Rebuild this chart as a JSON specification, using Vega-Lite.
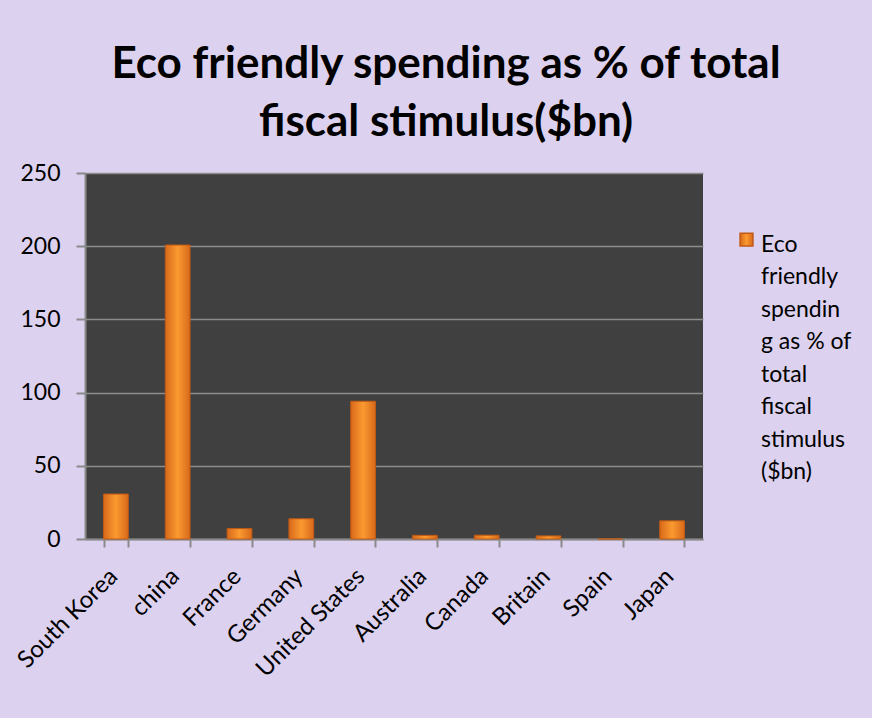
{
  "$schema": "https://vega.github.io/schema/vega-lite/v6.json",
  "autosize": "none",
  "width": 618,
  "height": 366,
  "padding": {"left": 85, "top": 173, "right": 169, "bottom": 179},
  "background": "#dcd1ee",
  "title": {
    "text": ["Eco friendly spending as % of total", "fiscal stimulus($bn)"],
    "font": "Lato",
    "fontSize": 44,
    "fontWeight": "bold",
    "color": "#000000",
    "lineHeight": 58,
    "anchor": "middle",
    "dx": 52,
    "offset": 17
  },
  "data": {
    "values": [
      {"country": "South Korea", "value": 30.7},
      {"country": "china", "value": 200.8},
      {"country": "France", "value": 7.1},
      {"country": "Germany", "value": 13.8},
      {"country": "United States", "value": 94.1},
      {"country": "Australia", "value": 2.5},
      {"country": "Canada", "value": 2.6},
      {"country": "Britain", "value": 2.1},
      {"country": "Spain", "value": 0},
      {"country": "Japan", "value": 12.4}
    ]
  },
  "mark": {
    "type": "bar",
    "strokeWidth": 1,
    "fill": {
      "gradient": "linear",
      "x1": 0, "x2": 1, "y1": 0, "y2": 0,
      "stops": [
        {"offset": 0, "color": "#d8691a"},
        {"offset": 0.5, "color": "#fb9a30"},
        {"offset": 1, "color": "#d8691a"}
      ]
    }
  },
  "encoding": {
    "x": {
      "field": "country",
      "type": "nominal",
      "sort": null,
      "scale": {"paddingInner": 0.6, "paddingOuter": 0.3},
      "axis": {
        "title": null,
        "labelAngle": -45,
        "labelFont": "Lato",
        "labelFontSize": 24,
        "labelColor": "#000000",
        "labelPadding": 17,
        "labelOffset": -11,
        "tickBand": "extent",
        "tickSize": 8,
        "tickColor": "#8a8a8a",
        "tickWidth": 2,
        "domainColor": "#8a8a8a",
        "domainWidth": 2,
        "grid": false
      }
    },
    "y": {
      "field": "value",
      "type": "quantitative",
      "scale": {"domain": [0, 250], "nice": false},
      "axis": {
        "title": null,
        "values": [0, 50, 100, 150, 200, 250],
        "labelFont": "Lato",
        "labelFontSize": 23,
        "labelColor": "#000000",
        "labelPadding": 16,
        "tickSize": 9,
        "tickColor": "#8a8a8a",
        "tickWidth": 2,
        "domainColor": "#8a8a8a",
        "domainWidth": 2,
        "grid": true,
        "gridColor": "#8c8c8c",
        "gridWidth": 1.5
      }
    },
    "stroke": {
      "datum": "Eco friendly spending as % of total fiscal stimulus ($bn)",
      "type": "nominal",
      "scale": {"range": ["#c05a14"]},
      "legend": {
        "title": null,
        "orient": "none",
        "legendX": 650,
        "legendY": 49,
        "symbolType": "M-1,-0.05L1,-0.05L1,1.95L-1,1.95Z",
        "symbolSize": 165,
        "symbolFillColor": "#f08a26",
        "symbolStrokeWidth": 1.5,
        "labelFont": "Lato",
        "labelFontSize": 23,
        "labelColor": "#000000",
        "labelBaseline": "top",
        "labelOffset": 3,
        "labelExpr": "['Eco', 'friendly', 'spendin', 'g as % of', 'total', 'fiscal', 'stimulus', '($bn)']"
      }
    }
  },
  "config": {
    "view": {"fill": "#404040", "stroke": null},
    "style": {"guide-label": {"lineHeight": 32.5}}
  }
}
